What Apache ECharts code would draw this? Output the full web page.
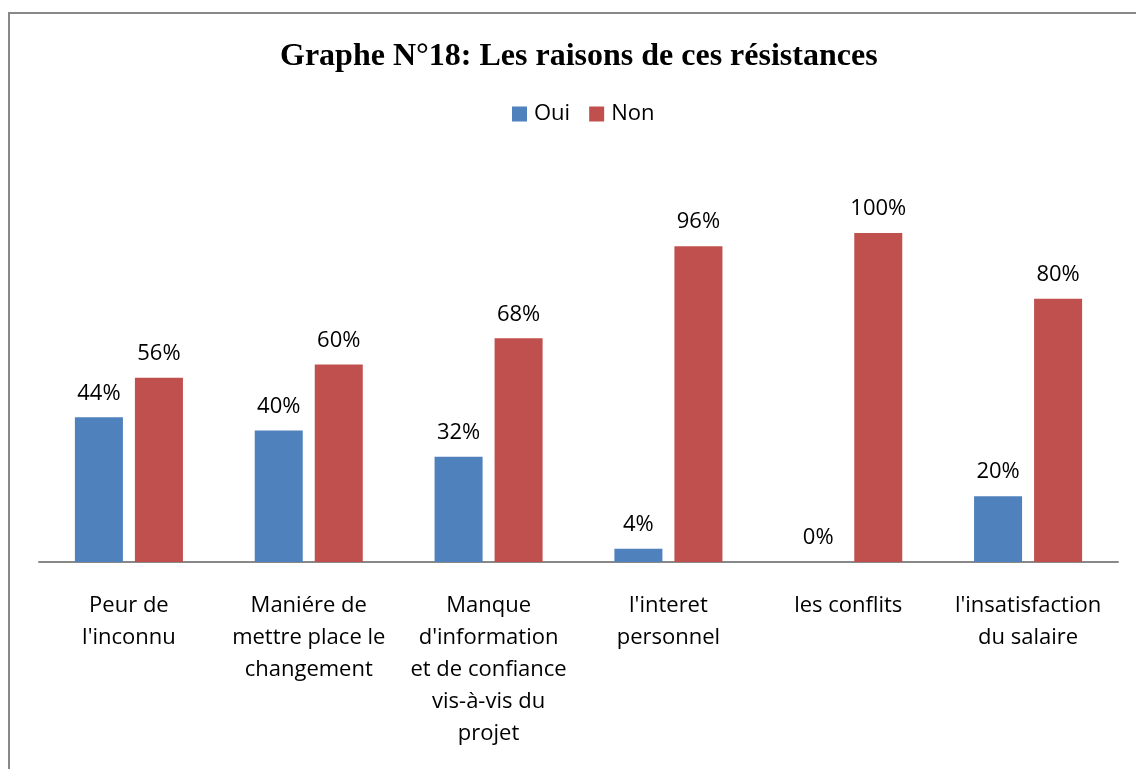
<!DOCTYPE html>
<html>
<head>
<meta charset="utf-8">
<script src="https://cdn.jsdelivr.net/npm/echarts@6/dist/echarts.min.js"></script>
<style>
  html, body { margin: 0; padding: 0; background: #fff; }
  #chart { width: 1136px; height: 769px; }
</style>
</head>
<body>
<div id="chart"></div>
<script>
  const categories = [
    "Peur de\nl'inconnu",
    "Maniére de\nmettre place le\nchangement",
    "Manque\nd'information\net de confiance\nvis-à-vis du\nprojet",
    "l'interet\npersonnel",
    "les conflits",
    "l'insatisfaction\ndu salaire"
  ];
  const oui = [44, 40, 32, 4, 0, 20];
  const non = [56, 60, 68, 96, 100, 80];

  const font = '"Open Sans", "Liberation Sans", sans-serif';

  const chartObj = echarts.init(document.getElementById('chart'));
  const labelOpts = {
    show: true,
    position: 'top',
    distance: 13,
    formatter: p => p.value + '%',
    color: '#000',
    fontFamily: font,
    fontSize: 22
  };

  chartObj.setOption({
    animation: false,
    title: {
      text: 'Graphe N°18: Les raisons de ces résistances',
      left: 275,
      top: 36,
      textStyle: {
        fontFamily: '"Liberation Serif", "Times New Roman", serif',
        fontWeight: 'bold',
        fontSize: 32,
        color: '#000'
      }
    },
    legend: {
      data: ['Oui', 'Non'],
      top: 98,
      left: 507,
      itemWidth: 15,
      itemHeight: 15,
      itemGap: 19,
      icon: 'rect',
      textStyle: { fontFamily: font, fontSize: 22, color: '#000', padding: [0, 0, 0, 2] }
    },
    graphic: [{
      type: 'rect',
      shape: { x: 9, y: 13, width: 1300, height: 900 },
      style: { fill: 'none', stroke: '#888', lineWidth: 2 },
      silent: true
    }],
    grid: { left: 39, right: 18, top: 233, bottom: 207 },
    xAxis: {
      type: 'category',
      data: categories,
      axisLine: { lineStyle: { color: '#888', width: 2 } },
      axisTick: { show: false },
      axisLabel: {
        interval: 0,
        margin: 28,
        color: '#000',
        fontFamily: font,
        fontSize: 22,
        lineHeight: 32,
        align: 'center'
      }
    },
    yAxis: {
      type: 'value',
      min: 0,
      max: 100,
      show: false,
      splitLine: { show: false }
    },
    series: [
      {
        name: 'Oui',
        type: 'bar',
        data: oui,
        barWidth: '26.7%',
        barGap: '25%',
        itemStyle: { color: '#4F81BD' },
        label: labelOpts
      },
      {
        name: 'Non',
        type: 'bar',
        data: non,
        barWidth: '26.7%',
        itemStyle: { color: '#C0504D' },
        label: labelOpts
      }
    ]
  });
</script>
</body>
</html>
